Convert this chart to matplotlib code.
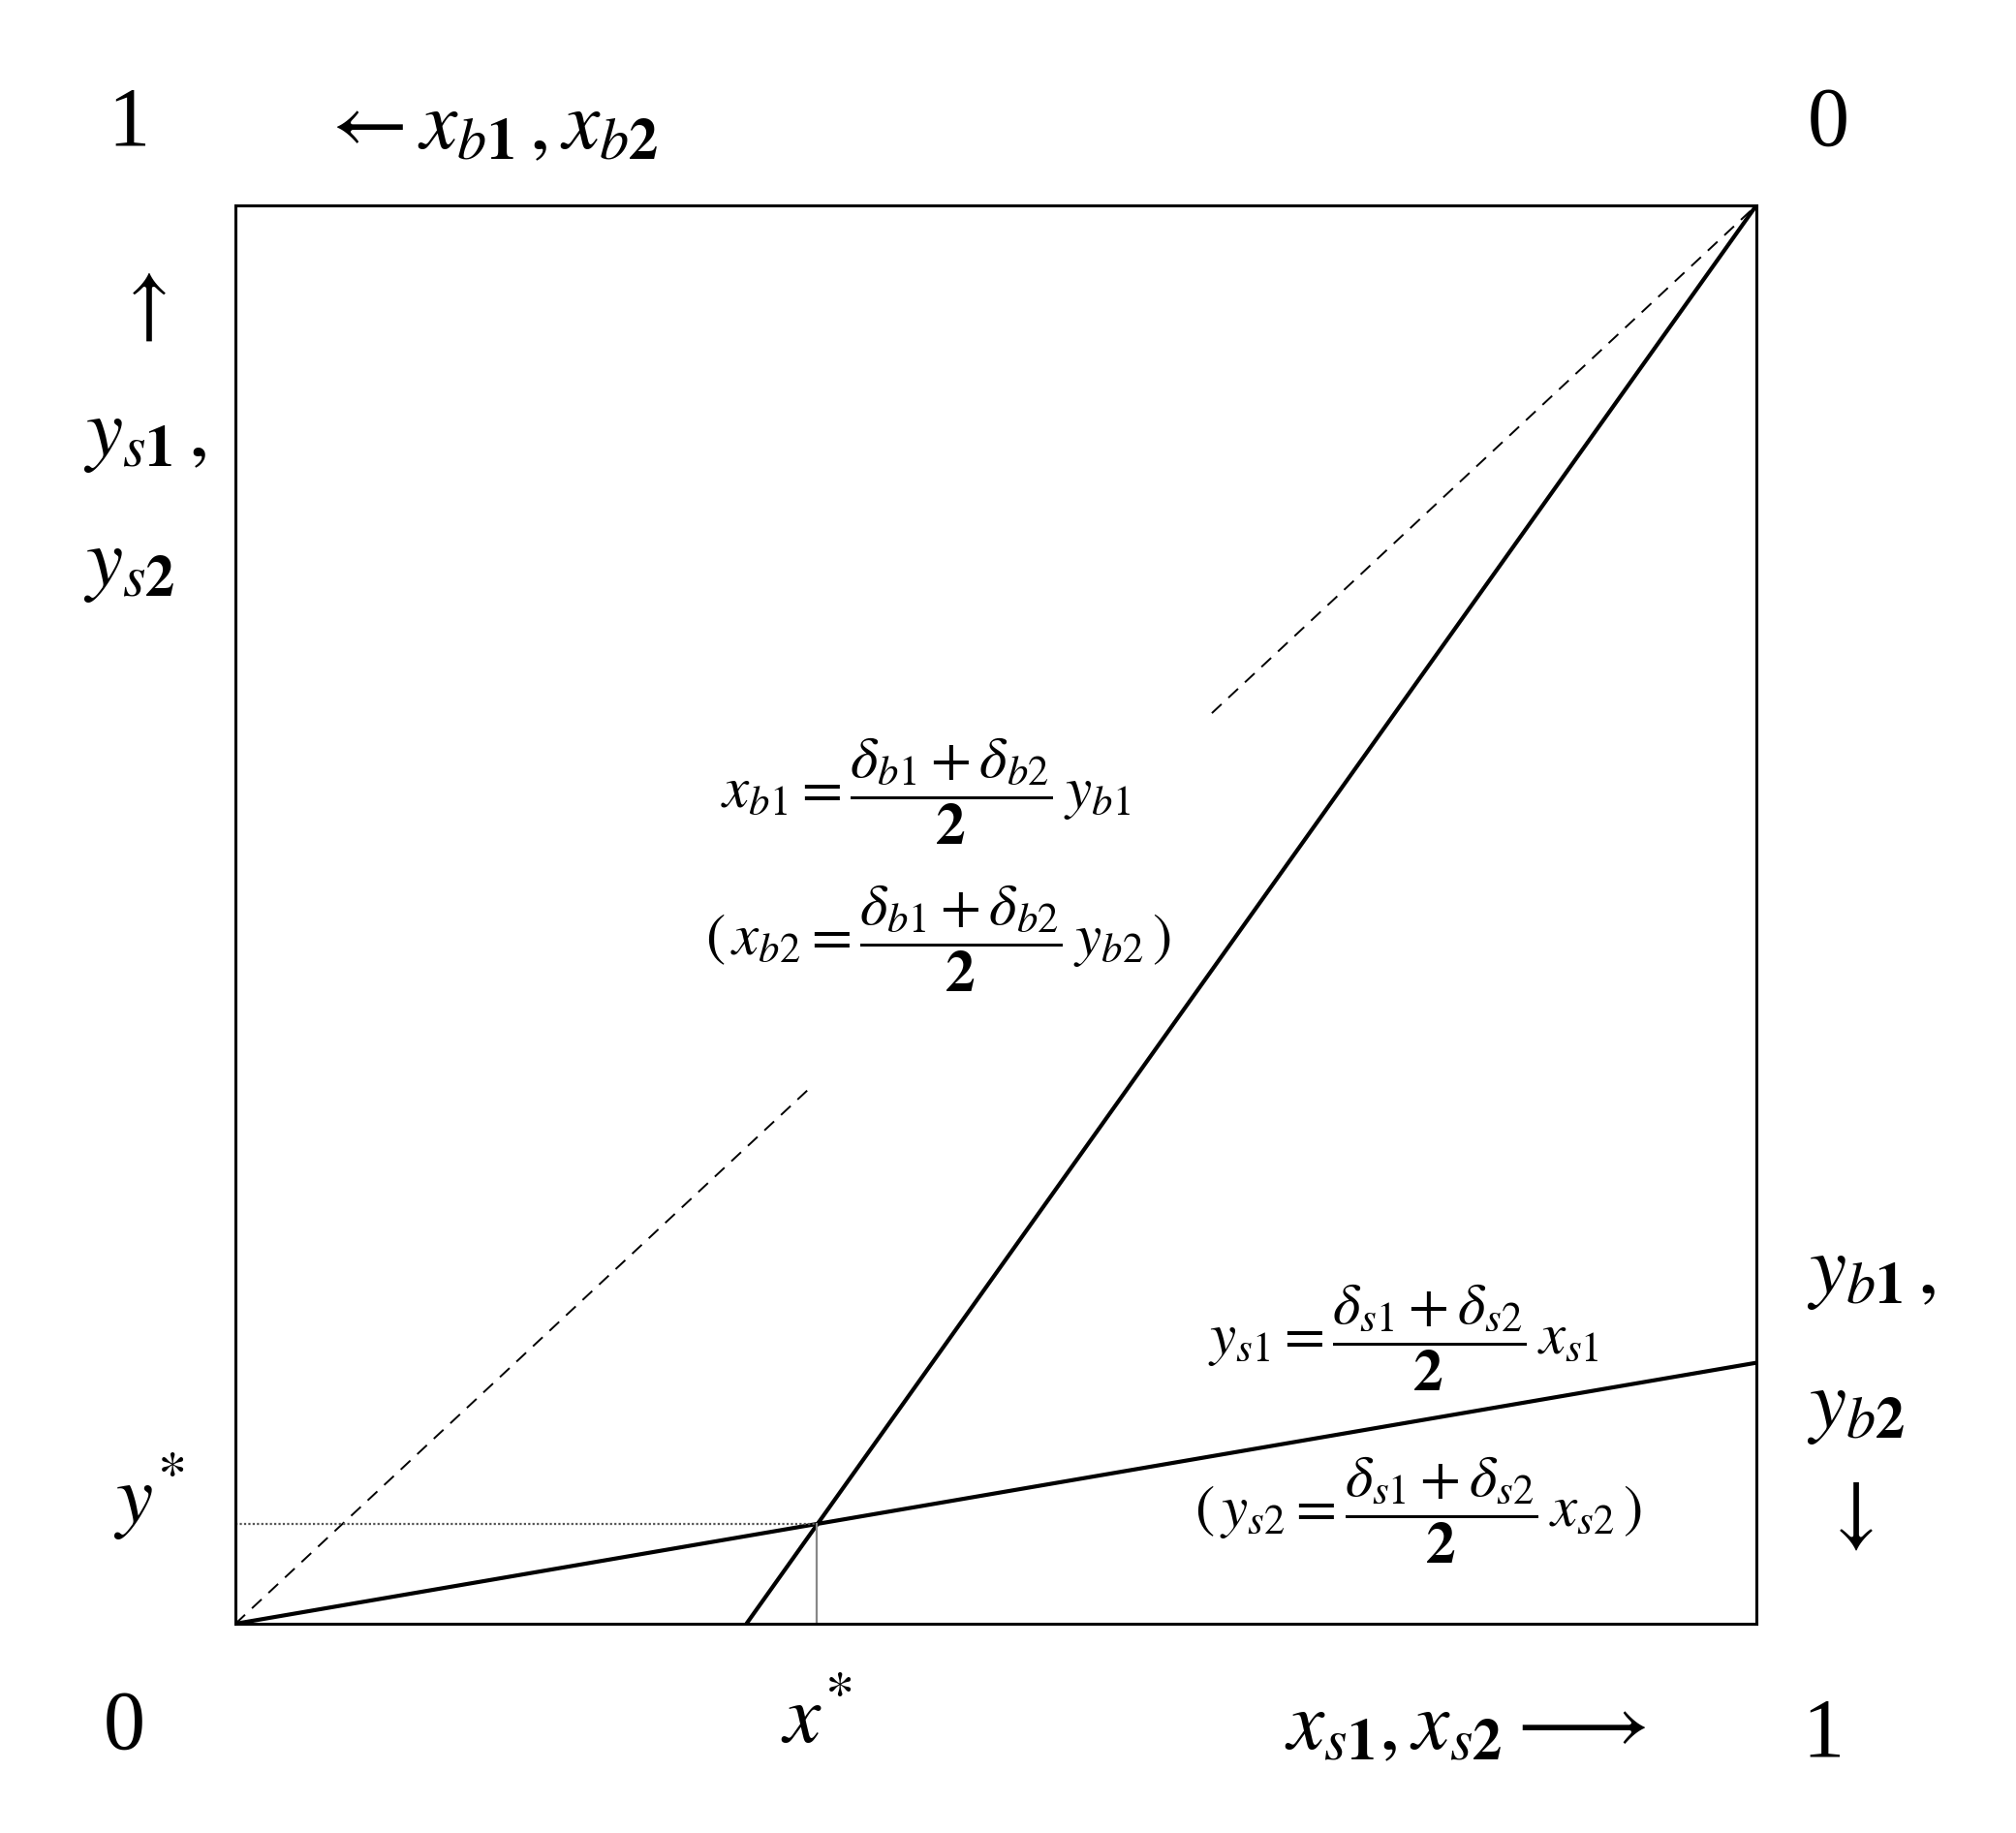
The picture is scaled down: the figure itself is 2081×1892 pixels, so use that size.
import matplotlib
matplotlib.use("Agg")
import matplotlib.pyplot as plt

plt.rcParams['font.family'] = ['Liberation Serif', 'DejaVu Serif']
plt.rcParams['mathtext.fontset'] = 'stix'

# seller line y_s = k_s * x_s  (goes through origin)
seller_x = [0.0, 1.0]
seller_y = [0.0, 0.184]
# buyer line, drawn from its x-intercept to the top right corner
buyer_x = [0.336, 1.0]
buyer_y = [0.0, 1.0]
# 45 degree reference line, broken where the label sits
diag_low = [0.0, 0.38]
diag_high = [0.642, 1.0]
# equilibrium
x_star = 0.382
y_star = 0.0705

fig = plt.figure(figsize=(20.81, 18.92), dpi=100)
ax = fig.add_axes([243 / 2081, 1 - 1676 / 1892, 1570 / 2081, 1464 / 1892])
ax.set_xlim(0, 1)
ax.set_ylim(0, 1)
ax.set_xticks([])
ax.set_yticks([])
for s in ax.spines.values():
    s.set_linewidth(2.2)

ax.plot(seller_x, seller_y, color='black', lw=3.0, solid_capstyle='butt')
ax.plot(buyer_x, buyer_y, color='black', lw=3.0, solid_capstyle='butt')
ax.plot(diag_low, diag_low, color='black', lw=1.4, ls=(0, (7, 5)))
ax.plot(diag_high, diag_high, color='black', lw=1.4, ls=(0, (7, 5)))
ax.plot([0, x_star], [y_star, y_star], color='#555555', lw=1.6, ls=(0, (1, 1)))
ax.plot([x_star, x_star], [0, y_star], color='#888888', lw=1.6)

tr = ax.transAxes
big = 62
eq = 44

def lab(x, y, s, size=big, ha='center', va='center'):
    ax.text(x, y, s, transform=tr, fontsize=size, ha=ha, va=va, clip_on=False)

# corners
lab(-0.070, 1.057, '1')
lab(1.047, 1.057, '0')
lab(-0.073, -0.074, '0')
lab(1.044, -0.079, '1')

# axis labels
lab(0.055, 1.054, r'$\leftarrow x_{b\mathbf{1}}\,, x_{b\mathbf{2}}$', ha='left')
lab(-0.062, 0.928, r'$\uparrow$')
lab(-0.10, 0.837, r'$y_{s\mathbf{1}}\,,$', ha='left')
lab(-0.10, 0.746, r'$y_{s\mathbf{2}}$', ha='left')
lab(1.033, 0.247, r'$y_{b\mathbf{1}}\,,$', ha='left')
lab(1.033, 0.152, r'$y_{b\mathbf{2}}$', ha='left')
lab(1.060, 0.075, r'$\downarrow$')
lab(0.690, -0.074, r'$x_{s\mathbf{1}}, x_{s\mathbf{2}} \longrightarrow$', ha='left')
lab(-0.057, 0.089, r'$y^{*}$')
lab(0.382, -0.070, r'$x^{*}$')

# equations
lab(0.454, 0.587, r'$x_{b1} = \dfrac{\delta_{b1} + \delta_{b2}}{\mathbf{2}}\,y_{b1}$', size=eq)
lab(0.462, 0.483, r'$(\,x_{b2} = \dfrac{\delta_{b1} + \delta_{b2}}{\mathbf{2}}\,y_{b2}\,)$', size=eq)
lab(0.768, 0.202, r'$y_{s1} = \dfrac{\delta_{s1} + \delta_{s2}}{\mathbf{2}}\,x_{s1}$', size=eq)
lab(0.778, 0.080, r'$(\,y_{s2} = \dfrac{\delta_{s1} + \delta_{s2}}{\mathbf{2}}\,x_{s2}\,)$', size=eq)

fig.savefig('out.png', dpi=100, facecolor='white')
